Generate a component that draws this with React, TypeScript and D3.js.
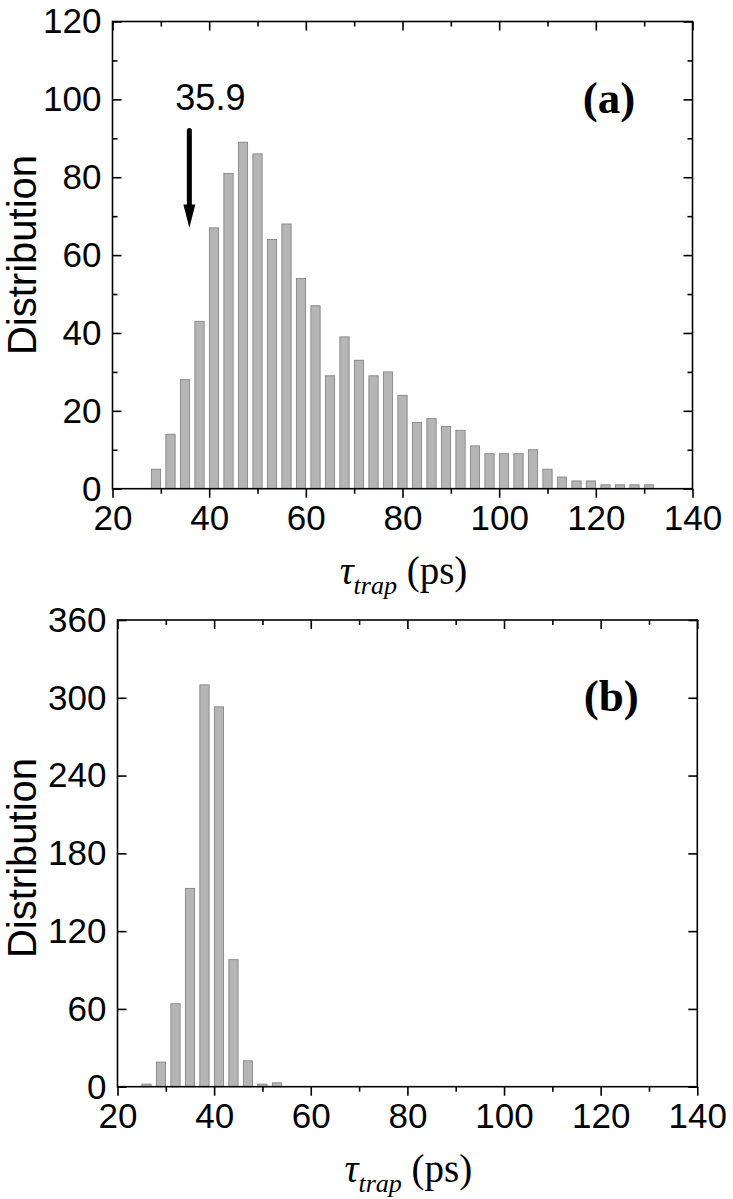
import * as d3 from 'd3';
import {useEffect, useRef} from 'react';

const width = 733;
const height = 1199;

// panel (a): bin centres (ps) and counts
const tauA = [29, 32, 35, 38, 41, 44, 47, 50, 53, 56, 59, 62, 65, 68, 71, 74, 77, 80, 83, 86, 89, 92, 95, 98, 101, 104, 107, 110, 113, 116, 119, 122, 125, 128, 131];
const countsA = [5, 14, 28, 43, 67, 81, 89, 86, 64, 68, 54, 47, 29, 39, 33, 29, 30, 24, 17, 18, 16, 15, 11, 9, 9, 9, 10, 5, 3, 2, 2, 1, 1, 1, 1];

// panel (b)
const tauB = [26, 29, 32, 35, 38, 41, 44, 47, 50, 53];
const countsB = [2, 19, 64, 153, 310, 293, 98, 20, 2, 3];

const xTicks = [20, 40, 60, 80, 100, 120, 140];
const yTicksA = [0, 20, 40, 60, 80, 100, 120];
const yTicksB = [0, 60, 120, 180, 240, 300, 360];

// arrow marker in panel (a)
const arrowX = 35.9;
const arrowLabel = '35.9';

const binWidth = 3;
const sans = 'Liberation Sans, Arial, sans-serif';
const serif = 'Liberation Serif, Times New Roman, serif';

function drawPanel(svg, opts) {
  const {box, tau, counts, yMax, yTicks, yMinor, label, labelPos, titleY} = opts;
  const x = d3.scaleLinear().domain([20, 140]).range([box.left, box.right]);
  const y = d3.scaleLinear().domain([0, yMax]).range([box.bottom, box.top]);

  const g = svg.append('g');

  // bars
  const bw = x(binWidth * 0.64) - x(0);
  g.selectAll('rect.bar')
    .data(tau)
    .enter()
    .append('rect')
    .attr('class', 'bar')
    .attr('x', d => x(d) - bw / 2)
    .attr('y', (d, i) => y(counts[i]))
    .attr('width', bw)
    .attr('height', (d, i) => y(0) - y(counts[i]))
    .attr('fill', '#b5b5b5')
    .attr('stroke', '#7d7d7d')
    .attr('stroke-width', 0.8);

  // frame
  g.append('rect')
    .attr('x', box.left)
    .attr('y', box.top)
    .attr('width', box.right - box.left)
    .attr('height', box.bottom - box.top)
    .attr('fill', 'none')
    .attr('stroke', '#000')
    .attr('stroke-width', 1.6);

  const minorX = d3.range(30, 140, 20);

  // bottom axis: ticks outward
  const bottom = d3.axisBottom(x).tickValues(xTicks).tickSize(9).tickPadding(7).tickFormat(d3.format('d'));
  const ga = g.append('g').attr('transform', `translate(0,${box.bottom})`).call(bottom);
  ga.select('.domain').remove();
  g.append('g')
    .attr('transform', `translate(0,${box.bottom})`)
    .call(d3.axisBottom(x).tickValues(minorX).tickSize(5).tickFormat(() => ''))
    .select('.domain')
    .remove();

  // top axis: ticks inward, no labels
  const gt = g.append('g').attr('transform', `translate(0,${box.top})`)
    .call(d3.axisBottom(x).tickValues(xTicks).tickSize(9).tickFormat(() => ''));
  gt.select('.domain').remove();
  g.append('g').attr('transform', `translate(0,${box.top})`)
    .call(d3.axisBottom(x).tickValues(minorX).tickSize(5).tickFormat(() => ''))
    .select('.domain').remove();

  // left axis: ticks inward
  const left = d3.axisRight(y).tickValues(yTicks).tickSize(9).tickFormat(() => '');
  g.append('g').attr('transform', `translate(${box.left},0)`).call(left).select('.domain').remove();
  if (yMinor.length) {
    g.append('g').attr('transform', `translate(${box.left},0)`)
      .call(d3.axisRight(y).tickValues(yMinor).tickSize(5).tickFormat(() => ''))
      .select('.domain').remove();
  }
  // y tick labels
  g.selectAll('text.ylab')
    .data(yTicks)
    .enter()
    .append('text')
    .attr('class', 'ylab')
    .attr('x', box.left - 11)
    .attr('y', d => y(d))
    .attr('dy', '0.34em')
    .attr('text-anchor', 'end')
    .attr('font-family', sans)
    .attr('font-size', 35)
    .text(d => d);

  // right axis: ticks inward
  g.append('g').attr('transform', `translate(${box.right},0)`)
    .call(d3.axisLeft(y).tickValues(yTicks).tickSize(9).tickFormat(() => ''))
    .select('.domain').remove();
  if (yMinor.length) {
    g.append('g').attr('transform', `translate(${box.right},0)`)
      .call(d3.axisLeft(y).tickValues(yMinor).tickSize(5).tickFormat(() => ''))
      .select('.domain').remove();
  }

  g.selectAll('.tick line').attr('stroke', '#000').attr('stroke-width', 1.6);
  ga.selectAll('.tick text')
    .attr('font-family', sans)
    .attr('font-size', 35)
    .attr('fill', '#000');

  // axis titles
  g.append('text')
    .attr('transform', `translate(36,${titleY}) rotate(-90)`)
    .attr('text-anchor', 'middle')
    .attr('font-family', sans)
    .attr('font-size', 40)
    .text('Distribution');

  const xt = g.append('text')
    .attr('x', (box.left + box.right) / 2 + 1)
    .attr('y', box.bottom + 95)
    .attr('text-anchor', 'middle')
    .attr('font-family', serif)
    .attr('font-size', 39);
  xt.append('tspan').attr('font-style', 'italic').text('τ');
  xt.append('tspan').attr('font-style', 'italic').attr('font-size', 26).attr('dy', 10).text('trap');
  xt.append('tspan').attr('dy', -10).text(' (ps)');

  g.append('text')
    .attr('x', x(labelPos[0]))
    .attr('y', y(labelPos[1]))
    .attr('font-family', serif)
    .attr('font-weight', 'bold')
    .attr('font-size', 45)
    .text(label);

  return {x, y, g};
}

function App() {
  const ref = useRef(null);

  useEffect(() => {
    document.body.style.margin = '0';
    const svg = d3.select(ref.current)
      .append('svg')
      .attr('width', width)
      .attr('height', height)
      .style('display', 'block')
      .style('background', '#fff');

    const a = drawPanel(svg, {
      box: {left: 112.5, right: 692.5, top: 21.5, bottom: 488.7},
      tau: tauA,
      counts: countsA,
      yMax: 120,
      yTicks: yTicksA,
      yMinor: [10, 30, 50, 70, 90, 110],
      label: '(a)',
      labelPos: [117.3, 96.5],
      titleY: 255,
    });

    // arrow at 35.9 ps
    const ax = a.x(arrowX);
    a.g.append('line')
      .attr('x1', ax).attr('x2', ax)
      .attr('y1', a.y(92)).attr('y2', a.y(72))
      .attr('stroke', '#000')
      .attr('stroke-width', 5)
      .attr('stroke-linecap', 'round');
    a.g.append('path')
      .attr('d', `M${ax - 6},${a.y(73)} L${ax + 6},${a.y(73)} L${ax},${a.y(67)} Z`)
      .attr('fill', '#000');
    a.g.append('text')
      .attr('x', ax - 14)
      .attr('y', a.y(97.3))
      .attr('font-family', sans)
      .attr('font-size', 36)
      .text(arrowLabel);

    drawPanel(svg, {
      box: {left: 117.5, right: 697.3, top: 620, bottom: 1086.7},
      tau: tauB,
      counts: countsB,
      yMax: 360,
      yTicks: yTicksB,
      yMinor: [],
      label: '(b)',
      labelPos: [116.5, 290],
      titleY: 858,
    });

    return () => svg.remove();
  }, []);

  return <div ref={ref}></div>;
}

export default App;
